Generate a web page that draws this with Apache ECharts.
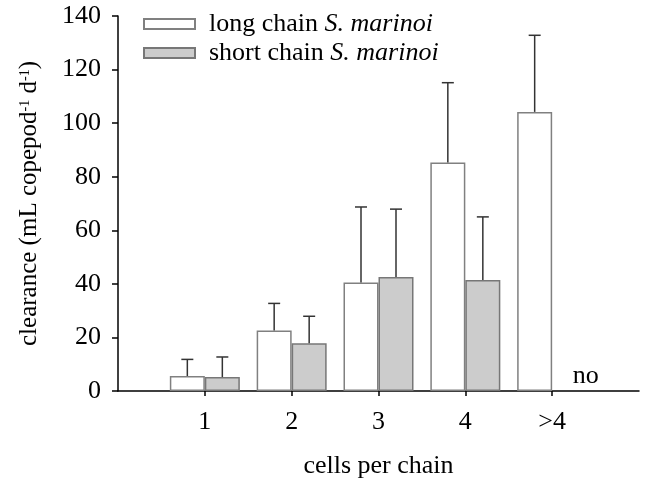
<html>
    <head>
        <meta charset="utf-8">
        <title></title>
        <script src="https://cdn.jsdelivr.net/npm/echarts@6/dist/echarts.min.js"></script>
    </head>
    <body style="margin:0;background:#fff;">
        <div id="main" style="width:646px;height:479px;"></div>
    </body>
</html>

<script>
    // values
    var categories=['1','2','3','4','>4'];
    var longMean=[5.6,22.6,40.5,85.3,104.2];
    var longUpper=[11.8,32.7,68.7,115.1,132.8];
    var shortMean=[5.2,17.8,42.6,41.4,null];
    var shortUpper=[12.7,27.9,67.9,65.0,null];
    var yTicks=[0,20,40,60,80,100,120,140];

    window.onload=function(){
        var myChart=echarts.init(document.getElementById('main'));
        var font='Liberation Serif';
        var barW=35;

        // empty slot on both ends so the ticks sit where the figure has them
        var axisData=[''].concat(categories).concat(['']);

        function pad(arr){
            return [null].concat(arr).concat([null]);
        }

        var shortData=pad(shortMean);
        shortData[5]={
            value:0,
            itemStyle:{borderWidth:0},
            label:{show:true,position:'top',formatter:'no',offset:[16,3],
                fontFamily:font,fontSize:26,color:'#000'}
        };

        function errData(mean,upper){
            var d=[];
            for(var i=0;i<mean.length;i++){
                if(mean[i]!=null) d.push([i+1,mean[i],upper[i]]);
            }
            return d;
        }

        function errRender(shift){
            return function(params,api){
                var p0=api.coord([api.value(0),api.value(1)]);
                var p1=api.coord([api.value(0),api.value(2)]);
                var x=p0[0]+shift;
                var st={stroke:'#333',lineWidth:1.5};
                return {
                    type:'group',
                    children:[
                        {type:'line',shape:{x1:x,y1:p0[1],x2:x,y2:p1[1]},style:st},
                        {type:'line',shape:{x1:x-6,y1:p1[1],x2:x+6,y2:p1[1]},style:st}
                    ]
                };
            };
        }

        var option={
            animation:false,
            textStyle:{fontFamily:font},
            grid:{left:118,right:7,top:16,bottom:88,outerBoundsMode:'none',containLabel:false},
            legend:{
                orient:'vertical',
                left:143,
                top:11,
                padding:0,
                icon:'rect',
                itemWidth:51,
                itemHeight:10,
                itemGap:3,
                data:['long chain','short chain'],
                formatter:function(name){
                    return '{n|'+name+' }{i|S. marinoi}';
                },
                textStyle:{
                    fontFamily:font,fontSize:26,lineHeight:26,color:'#000',
                    rich:{
                        n:{fontFamily:font,fontSize:26,lineHeight:26,color:'#000',padding:[0,0,0,9]},
                        i:{fontFamily:font,fontSize:26,lineHeight:26,fontStyle:'italic',color:'#000'}
                    }
                }
            },
            xAxis:{
                type:'category',
                data:axisData,
                boundaryGap:false,
                name:'cells per chain',
                nameLocation:'middle',
                nameGap:62,
                nameTextStyle:{fontFamily:font,fontSize:26,color:'#000'},
                axisLine:{lineStyle:{color:'#000',width:1.5}},
                axisTick:{
                    inside:false,length:5,
                    lineStyle:{color:'#000',width:1.5},
                    interval:function(i){return i>=1&&i<=categories.length;}
                },
                axisLabel:{interval:0,margin:18,fontFamily:font,fontSize:26,color:'#000'},
                splitLine:{show:false}
            },
            yAxis:{
                type:'value',
                min:yTicks[0],
                max:yTicks[yTicks.length-1],
                interval:20,
                name:'clearance (mL copepod{s|-1} d{s|-1})',
                nameLocation:'middle',
                nameGap:76,
                nameTextStyle:{
                    fontFamily:font,fontSize:25,lineHeight:26,color:'#000',
                    rich:{s:{fontFamily:font,fontSize:14,lineHeight:26,verticalAlign:'top',color:'#000',padding:[2,0,0,0]}}
                },
                axisLine:{show:true,lineStyle:{color:'#000',width:1.5}},
                axisTick:{show:true,length:6,lineStyle:{color:'#000',width:1.5}},
                axisLabel:{margin:17,fontFamily:font,fontSize:26,color:'#000'},
                splitLine:{show:false}
            },
            series:[{
                name:'long chain',
                type:'bar',
                barWidth:barW,
                barGap:'0%',
                itemStyle:{color:'#fff',borderColor:'#808080',borderWidth:1.5},
                data:pad(longMean)
            },{
                name:'short chain',
                type:'bar',
                barWidth:barW,
                barGap:'0%',
                itemStyle:{color:'#cccccc',borderColor:'#777',borderWidth:1.5},
                data:shortData
            },{
                type:'custom',
                renderItem:errRender(-barW/2),
                data:errData(longMean,longUpper),
                z:3
            },{
                type:'custom',
                renderItem:errRender(barW/2),
                data:errData(shortMean,shortUpper),
                z:3
            }]
        };

        myChart.setOption(option);
    }
</script>
